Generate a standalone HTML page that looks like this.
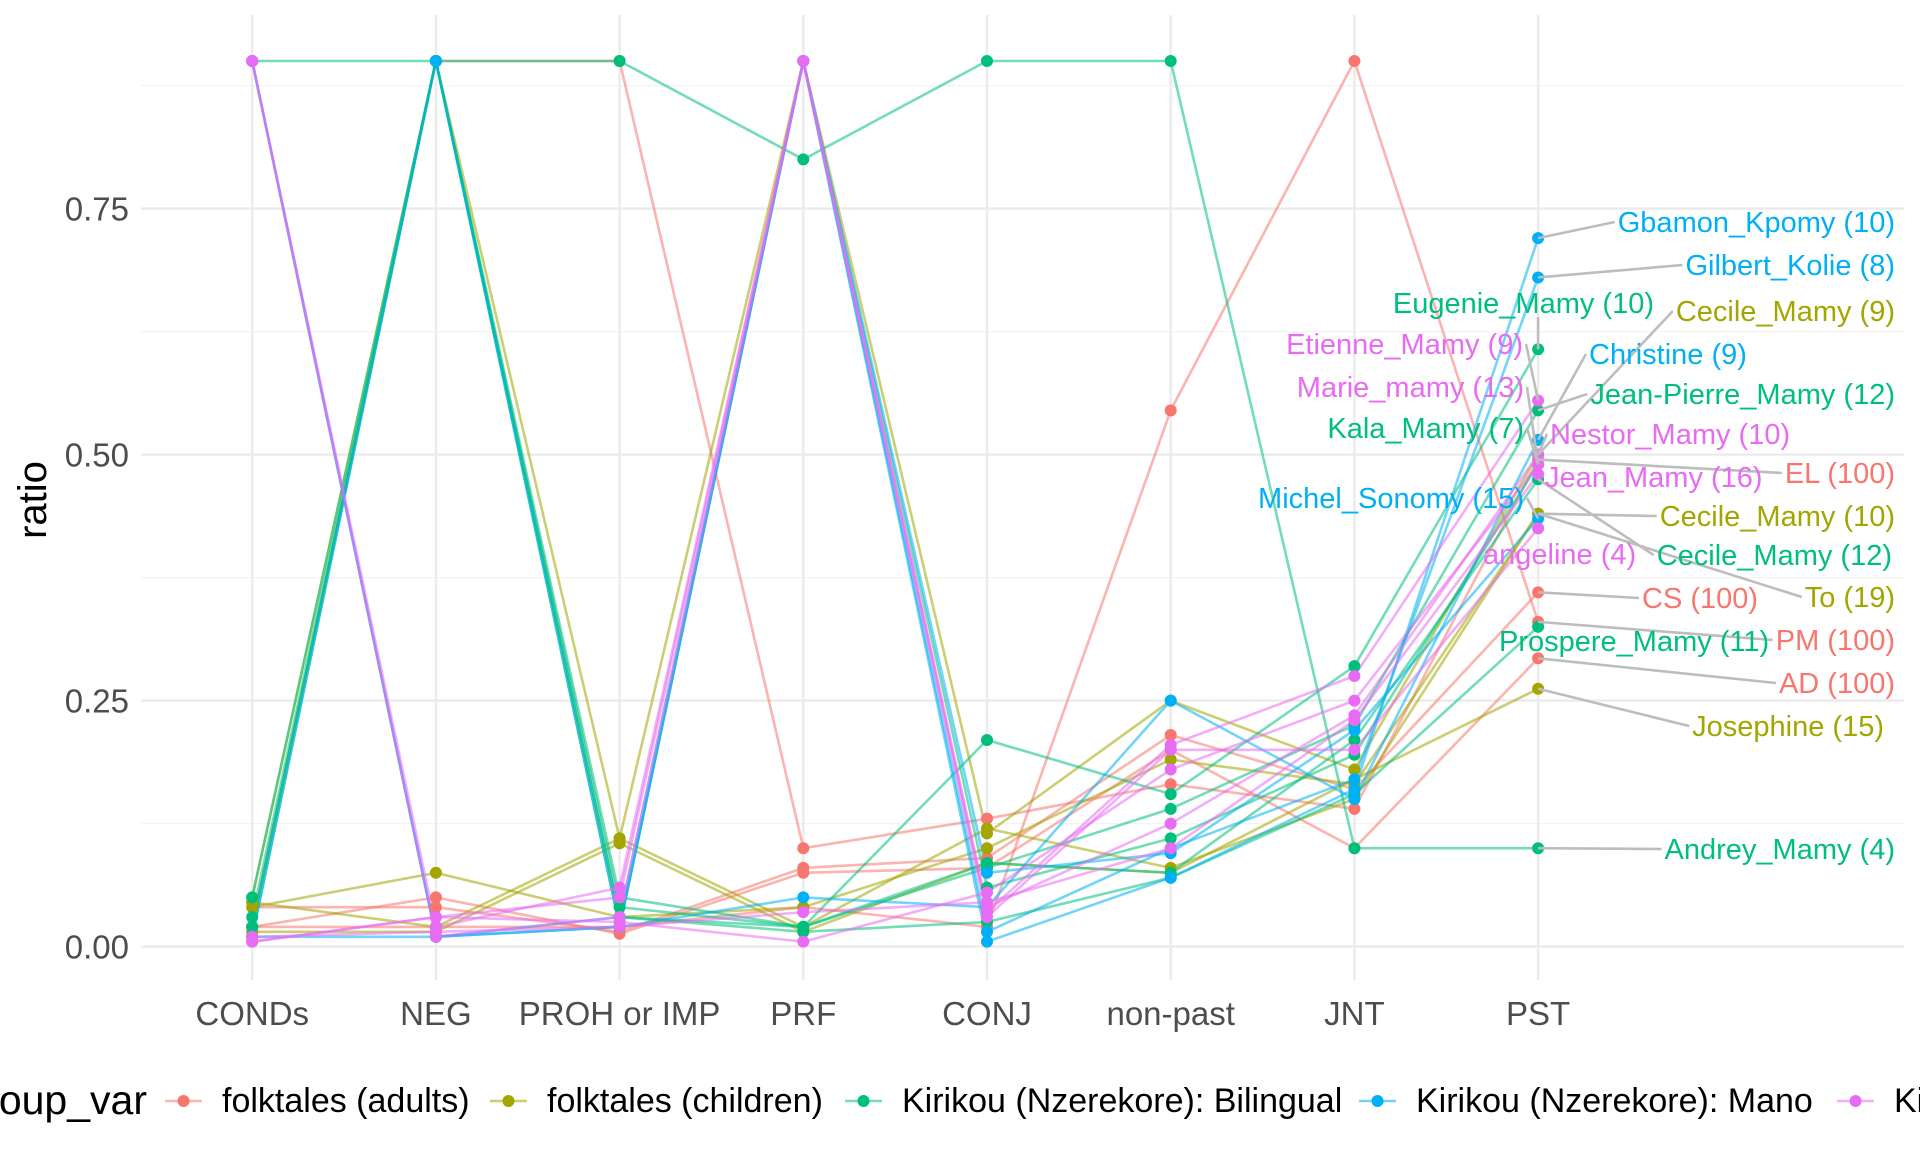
<!DOCTYPE html>
<html><head><meta charset="utf-8">
<style>
html,body{margin:0;padding:0;background:#fff;}
svg{display:block;font-family:"Liberation Sans",sans-serif;}
</style></head>
<body>
<svg id="chart" width="1920" height="1152" viewBox="0 0 1920 1152" xmlns="http://www.w3.org/2000/svg">
<rect width="1920" height="1152" fill="#fff"/>
<g id="grid"></g>
<g id="lines"></g>
<g id="points"></g>
<g id="leaders"></g>
<g id="labels"></g>
<g id="axes"></g>
<text x="0" y="0" transform="translate(46,500) rotate(-90)" text-anchor="middle" font-size="40" fill="#000">ratio</text>
<g id="legend"></g>
</svg>
<script>
const categories = ["CONDs","NEG","PROH or IMP","PRF","CONJ","non-past","JNT","PST"];
const yTicks = [0, 0.25, 0.5, 0.75];
const yTickLabels = ["0.00","0.25","0.50","0.75"];
const groups = ["folktales (adults)","folktales (children)","Kirikou (Nzerekore): Bilingual","Kirikou (Nzerekore): Mano","Kirikou (Nzerekore): Mamy"];
const groupColors = ["#F8766D","#A3A500","#00BF7D","#00B0F6","#E76BF3"];

const adultsNames = ["EL (100)","CS (100)","PM (100)","AD (100)"];
const adultsValues = [
  [0.02,0.9,0.9,0.10,0.13,0.165,0.14,0.495],
  [0.04,0.04,0.015,0.08,0.09,0.215,0.16,0.36],
  [0.02,0.02,0.02,0.04,0.02,0.545,0.9,0.33],
  [0.02,0.05,0.013,0.075,0.08,0.2,0.1,0.293]
];
const childrenNames = ["Cecile_Mamy (9)","Cecile_Mamy (10)","To (19)","Josephine (15)"];
const childrenValues = [
  [0.05,0.9,0.11,0.9,0.115,0.25,0.18,0.50],
  [0.04,0.075,0.03,0.04,0.10,0.19,0.165,0.44],
  [0.045,0.02,0.11,0.02,0.12,0.08,0.15,0.44],
  [0.015,0.015,0.105,0.015,0.085,0.075,0.17,0.262]
];
const bilingualNames = ["Eugenie_Mamy (10)","Jean-Pierre_Mamy (12)","Kala_Mamy (7)","Cecile_Mamy (12)","Prospere_Mamy (11)","Andrey_Mamy (4)"];
const bilingualValues = [
  [0.03,0.9,0.03,0.02,0.21,0.155,0.285,0.607],
  [0.02,0.9,0.04,0.02,0.08,0.14,0.225,0.545],
  [0.01,0.9,0.02,0.9,0.06,0.11,0.195,0.49],
  [0.05,0.9,0.05,0.02,0.085,0.075,0.21,0.475],
  [0.02,0.9,0.03,0.015,0.025,0.07,0.155,0.325],
  [0.9,0.9,0.9,0.8,0.9,0.9,0.1,0.1]
];
const manoNames = ["Gbamon_Kpomy (10)","Gilbert_Kolie (8)","Christine (9)","Michel_Sonomy (15)"];
const manoValues = [
  [0.9,0.01,0.02,0.9,0.005,0.07,0.16,0.72],
  [0.9,0.01,0.02,0.9,0.015,0.1,0.17,0.68],
  [0.01,0.9,0.02,0.05,0.04,0.25,0.15,0.515],
  [0.01,0.01,0.03,0.9,0.075,0.095,0.22,0.435]
];
const mamyNames = ["Etienne_Mamy (9)","Marie_mamy (13)","Nestor_Mamy (10)","Jean_Mamy (16)","angeline (4)"];
const mamyValues = [
  [0.9,0.02,0.06,0.9,0.035,0.205,0.275,0.555],
  [0.005,0.03,0.025,0.005,0.055,0.18,0.25,0.49],
  [0.9,0.01,0.03,0.9,0.04,0.125,0.235,0.50],
  [0.01,0.015,0.02,0.035,0.045,0.1,0.23,0.48],
  [0.005,0.03,0.05,0.9,0.03,0.2,0.2,0.425]
];

// label layout (pixel positions, not data)
const labelLayout = {
  "Gbamon_Kpomy (10)":[1895,222,"end"],"Gilbert_Kolie (8)":[1895,265,"end"],
  "Eugenie_Mamy (10)":[1654,303,"end"],"Cecile_Mamy (9)":[1895,311,"end"],
  "Etienne_Mamy (9)":[1523,344,"end"],"Christine (9)":[1589,354,"start"],
  "Marie_mamy (13)":[1524,387,"end"],"Jean-Pierre_Mamy (12)":[1895,394,"end"],
  "Kala_Mamy (7)":[1524,428,"end"],"Nestor_Mamy (10)":[1550,434,"start"],
  "EL (100)":[1895,473,"end"],"Jean_Mamy (16)":[1545,477,"start"],
  "Michel_Sonomy (15)":[1524,498,"end"],"Cecile_Mamy (10)":[1895,516,"end"],
  "angeline (4)":[1483,554,"start"],"Cecile_Mamy (12)":[1892,555,"end"],
  "CS (100)":[1642,598,"start"],"To (19)":[1895,597,"end"],
  "Prospere_Mamy (11)":[1499,641,"start"],"PM (100)":[1895,640,"end"],
  "AD (100)":[1895,683,"end"],"Josephine (15)":[1884,726,"end"],
  "Andrey_Mamy (4)":[1895,849,"end"]
};

const NS="http://www.w3.org/2000/svg";
const X0=252.2, DX=183.7, Y0=946.6, YS=984;
function xScale(i){return X0+i*DX;}
function yScale(v){return Y0-v*YS;}
function mk(tag,attrs,parent){const e=document.createElementNS(NS,tag);for(const k in attrs)e.setAttribute(k,attrs[k]);parent.appendChild(e);return e;}

const grid=document.getElementById('grid');
[0.125,0.375,0.625,0.875].forEach(v=>{
  const l=mk('line',{x1:141,x2:1904,y1:yScale(v),y2:yScale(v),stroke:'#F3F3F3','stroke-width':1.3},grid);
  
  
});
yTicks.forEach((v,i)=>{
  const l=mk('line',{x1:141,x2:1904,y1:yScale(v),y2:yScale(v),stroke:'#EBEBEB','stroke-width':2.4},grid);
  
  
  const t=mk('text',{x:129,y:yScale(v)+12,'text-anchor':'end','font-size':33,fill:'#4D4D4D'},document.getElementById('axes'));
  t.textContent=yTickLabels[i];
  
  
});
categories.forEach((c,i)=>{
  const l=mk('line',{x1:xScale(i),x2:xScale(i),y1:15,y2:980,stroke:'#EBEBEB','stroke-width':2.4},grid);
  
  
  const t=mk('text',{x:xScale(i),y:1025,'text-anchor':'middle','font-size':33,fill:'#4D4D4D'},document.getElementById('axes'));
  t.textContent=c;
  
  
});

const allGroups=[[adultsNames,adultsValues],[childrenNames,childrenValues],[bilingualNames,bilingualValues],[manoNames,manoValues],[mamyNames,mamyValues]];
const linesG=document.getElementById('lines'),ptsG=document.getElementById('points'),labG=document.getElementById('labels'),ldG=document.getElementById('leaders');
const labelItems=[];
allGroups.forEach(([names,vals],g)=>{
  const col=groupColors[g];
  vals.forEach((row,s)=>{
    const d=row.map((v,i)=>(i?'L':'M')+xScale(i).toFixed(1)+','+yScale(v).toFixed(1)).join('');
    const p=mk('path',{d:d,fill:'none',stroke:col,'stroke-width':2.6,'stroke-opacity':0.55},linesG);
    
    
    row.forEach((v,i)=>{
      const c=mk('circle',{cx:xScale(i),cy:yScale(v),r:6,fill:col},ptsG);
      
      
    });
    const name=names[s];
    const lay=labelLayout[name];
    if(lay){
      const t=mk('text',{x:lay[0],y:lay[1]+10,'text-anchor':lay[2],'font-size':29,fill:col},labG);
      t.textContent=name;
      
      
      labelItems.push([t,xScale(7),yScale(row[7]),lay]);
    }
  });
});
labelItems.forEach(([t,px,py,lay])=>{
  const w=t.getComputedTextLength();
  const left=lay[2]==='end'?lay[0]-w:lay[0];
  const right=left+w;
  let tx=Math.max(left-3,Math.min(px,right+3));
  let ty=lay[1];
  if(px>=left && px<=right){ ty = py<lay[1]?lay[1]-14:lay[1]+14; }
  const dist=Math.hypot(tx-px,ty-py);
  if(dist>18){
    const l=mk('line',{x1:px,y1:py,x2:tx,y2:ty,stroke:'#BDBDBD','stroke-width':2.6},ldG);
    
    
  }
});

const lg=document.getElementById('legend');
const lt=mk('text',{x:147,y:1114,'text-anchor':'end','font-size':41,fill:'#000'},lg);
lt.textContent='group_var';


const keyX=[165,490,845,1359,1837];
groups.forEach((gname,g)=>{
  const k=mk('line',{x1:keyX[g],x2:keyX[g]+37,y1:1101,y2:1101,stroke:groupColors[g],'stroke-width':2.6,'stroke-opacity':0.55},lg);
  
  
  const c=mk('circle',{cx:keyX[g]+18.5,cy:1101,r:6,fill:groupColors[g]},lg);
  
  
  const t=mk('text',{x:keyX[g]+57,y:1112,'font-size':34,fill:'#000'},lg);
  t.textContent=gname;
  
  
});
</script>
</body></html>
